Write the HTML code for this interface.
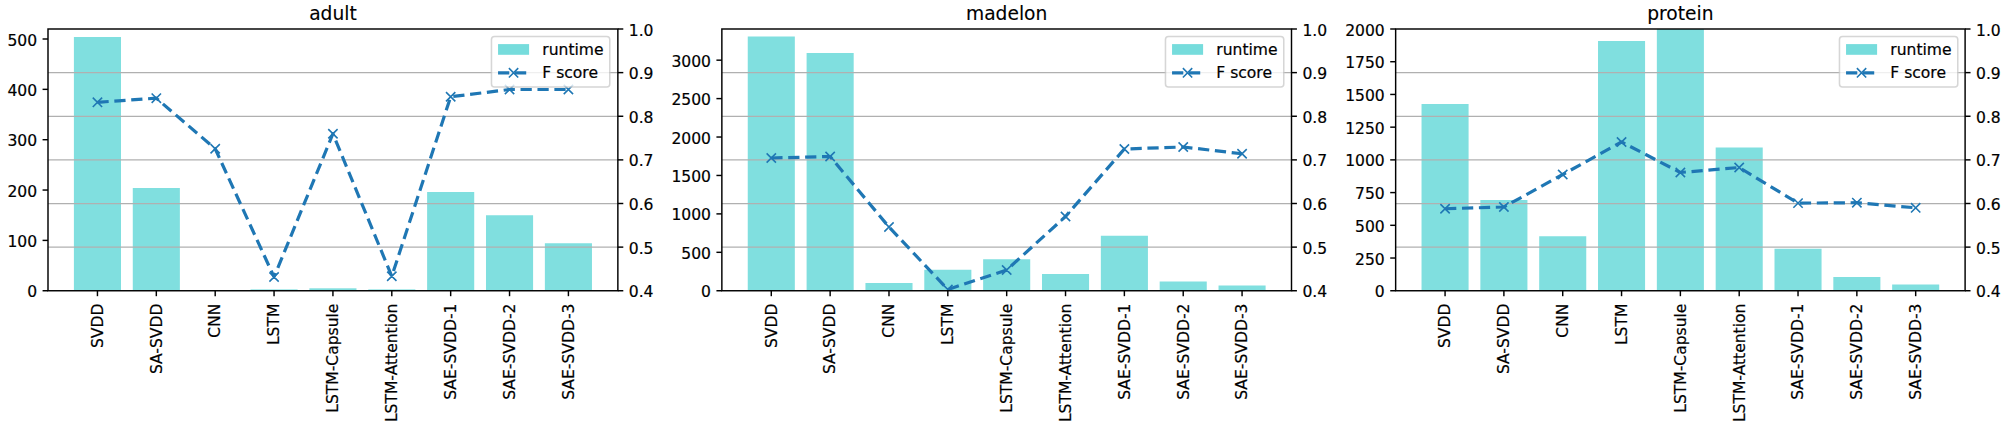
<!DOCTYPE html>
<html lang="en">
<head>
<meta charset="utf-8">
<title>runtime and F score</title>
<style>
html,body{margin:0;padding:0;background:#fff;}
body{width:2007px;height:428px;overflow:hidden;}
svg{display:block;}
svg text{font-family:"DejaVu Sans","Liberation Sans",sans-serif;font-size:15.56px;fill:#000;stroke:#000;stroke-width:0.2px;}
svg .lt text{text-anchor:end;}
svg .rt text{text-anchor:start;}
svg .xt text{text-anchor:end;}
svg text.ti{font-size:18.67px;text-anchor:middle;stroke-width:0.12px;}
</style>
</head>
<body>
<svg width="2007" height="428" viewBox="0 0 2007 428">
<defs>
<clipPath id="c0"><rect x="48.0" y="29.0" width="569.86" height="261.75"/></clipPath>
<clipPath id="c1"><rect x="721.86" y="29.0" width="569.64" height="261.75"/></clipPath>
<clipPath id="c2"><rect x="1395.65" y="29.0" width="569.45" height="261.75"/></clipPath>
</defs>
<rect width="2007" height="428" fill="#fff"/>
<g class="panel">
<g clip-path="url(#c0)" fill="#80dfdf">
<rect x="73.9" y="37" width="47.1" height="253.75"/>
<rect x="132.77" y="188" width="47.1" height="102.75"/>
<rect x="191.64" y="290.2" width="47.1" height="0.55"/>
<rect x="250.51" y="289.4" width="47.1" height="1.35"/>
<rect x="309.38" y="288.3" width="47.1" height="2.45"/>
<rect x="368.25" y="289.4" width="47.1" height="1.35"/>
<rect x="427.12" y="192" width="47.1" height="98.75"/>
<rect x="485.99" y="215.25" width="47.1" height="75.5"/>
<rect x="544.86" y="243.25" width="47.1" height="47.5"/>
</g>
<g stroke="#b0b0b0" stroke-width="1.25">
<line x1="48" x2="617.86" y1="247.12" y2="247.12"/>
<line x1="48" x2="617.86" y1="203.5" y2="203.5"/>
<line x1="48" x2="617.86" y1="159.88" y2="159.88"/>
<line x1="48" x2="617.86" y1="116.25" y2="116.25"/>
<line x1="48" x2="617.86" y1="72.62" y2="72.62"/>
</g>
<g clip-path="url(#c0)" stroke="#1f77b4" fill="none">
<polyline points="97.45,102.3 156.32,98.2 215.19,148.75 274.06,277 332.93,133.75 391.8,276.25 450.67,96.75 509.54,89.5 568.41,89.5" stroke-width="3.19" stroke-dasharray="11.25 5.67" stroke-linejoin="round"/>
<path d="M92.78 97.63L102.12 106.97M92.78 106.97L102.12 97.63M151.65 93.53L160.99 102.87M151.65 102.87L160.99 93.53M210.52 144.08L219.86 153.42M210.52 153.42L219.86 144.08M269.39 272.33L278.73 281.67M269.39 281.67L278.73 272.33M328.26 129.08L337.6 138.42M328.26 138.42L337.6 129.08M387.13 271.58L396.47 280.92M387.13 280.92L396.47 271.58M446 92.08L455.34 101.42M446 101.42L455.34 92.08M504.87 84.83L514.21 94.17M504.87 94.17L514.21 84.83M563.74 84.83L573.08 94.17M563.74 94.17L573.08 84.83" stroke-width="1.556"/>
</g>
<g stroke="#000" stroke-width="1.45">
<line x1="97.45" x2="97.45" y1="290.75" y2="296.19"/>
<line x1="156.32" x2="156.32" y1="290.75" y2="296.19"/>
<line x1="215.19" x2="215.19" y1="290.75" y2="296.19"/>
<line x1="274.06" x2="274.06" y1="290.75" y2="296.19"/>
<line x1="332.93" x2="332.93" y1="290.75" y2="296.19"/>
<line x1="391.8" x2="391.8" y1="290.75" y2="296.19"/>
<line x1="450.67" x2="450.67" y1="290.75" y2="296.19"/>
<line x1="509.54" x2="509.54" y1="290.75" y2="296.19"/>
<line x1="568.41" x2="568.41" y1="290.75" y2="296.19"/>
<line x1="42.56" x2="48" y1="290.75" y2="290.75"/>
<line x1="42.56" x2="48" y1="240.4" y2="240.4"/>
<line x1="42.56" x2="48" y1="190.05" y2="190.05"/>
<line x1="42.56" x2="48" y1="139.7" y2="139.7"/>
<line x1="42.56" x2="48" y1="89.35" y2="89.35"/>
<line x1="42.56" x2="48" y1="39" y2="39"/>
<line x1="617.86" x2="623.3" y1="290.75" y2="290.75"/>
<line x1="617.86" x2="623.3" y1="247.12" y2="247.12"/>
<line x1="617.86" x2="623.3" y1="203.5" y2="203.5"/>
<line x1="617.86" x2="623.3" y1="159.88" y2="159.88"/>
<line x1="617.86" x2="623.3" y1="116.25" y2="116.25"/>
<line x1="617.86" x2="623.3" y1="72.62" y2="72.62"/>
<line x1="617.86" x2="623.3" y1="29" y2="29"/>
<rect x="48" y="29" width="569.86" height="261.75" fill="none"/>
</g>
<g class="lt">
<text x="37.1" y="297.25">0</text>
<text x="37.1" y="246.9">100</text>
<text x="37.1" y="196.55">200</text>
<text x="37.1" y="146.2">300</text>
<text x="37.1" y="95.85">400</text>
<text x="37.1" y="45.5">500</text>
</g>
<g class="rt">
<text x="628.76" y="297.25">0.4</text>
<text x="628.76" y="253.62">0.5</text>
<text x="628.76" y="210">0.6</text>
<text x="628.76" y="166.38">0.7</text>
<text x="628.76" y="122.75">0.8</text>
<text x="628.76" y="79.12">0.9</text>
<text x="628.76" y="35.5">1.0</text>
</g>
<g class="xt">
<text transform="translate(102.75 303.6) rotate(-90)">SVDD</text>
<text transform="translate(161.62 303.6) rotate(-90)">SA-SVDD</text>
<text transform="translate(220.49 303.6) rotate(-90)">CNN</text>
<text transform="translate(279.36 303.6) rotate(-90)">LSTM</text>
<text transform="translate(338.23 303.6) rotate(-90)">LSTM-Capsule</text>
<text transform="translate(397.1 303.6) rotate(-90)">LSTM-Attention</text>
<text transform="translate(455.97 303.6) rotate(-90)">SAE-SVDD-1</text>
<text transform="translate(514.84 303.6) rotate(-90)">SAE-SVDD-2</text>
<text transform="translate(573.71 303.6) rotate(-90)">SAE-SVDD-3</text>
</g>
<text class="ti" x="332.93" y="19.7">adult</text>
<g class="lg">
<rect x="491.47" y="36.5" width="118.3" height="50.5" rx="3.06" fill="#fff" stroke="#ccc" stroke-width="1.53" opacity="0.8"/>
<rect x="498.05" y="44.1" width="31.05" height="10.7" fill="#76dcdc"/>
<line x1="498.05" x2="529.1" y1="72.8" y2="72.8" stroke="#1f77b4" stroke-width="3.19" stroke-dasharray="11.25 5.67"/>
<path d="M508.88 68.13L518.22 77.47M508.88 77.47L518.22 68.13" stroke="#1f77b4" stroke-width="1.556" fill="none"/>
<text x="542.3" y="55.0">runtime</text>
<text x="542.3" y="78.1">F score</text>
</g>
</g>
<g class="panel">
<g clip-path="url(#c1)" fill="#80dfdf">
<rect x="747.75" y="36.5" width="47.08" height="254.25"/>
<rect x="806.6" y="53" width="47.08" height="237.75"/>
<rect x="865.45" y="283" width="47.08" height="7.75"/>
<rect x="924.29" y="269.75" width="47.08" height="21"/>
<rect x="983.14" y="259.25" width="47.08" height="31.5"/>
<rect x="1041.99" y="274" width="47.08" height="16.75"/>
<rect x="1100.84" y="235.75" width="47.08" height="55"/>
<rect x="1159.68" y="281.5" width="47.08" height="9.25"/>
<rect x="1218.53" y="285.5" width="47.08" height="5.25"/>
</g>
<g stroke="#b0b0b0" stroke-width="1.25">
<line x1="721.86" x2="1291.5" y1="247.12" y2="247.12"/>
<line x1="721.86" x2="1291.5" y1="203.5" y2="203.5"/>
<line x1="721.86" x2="1291.5" y1="159.88" y2="159.88"/>
<line x1="721.86" x2="1291.5" y1="116.25" y2="116.25"/>
<line x1="721.86" x2="1291.5" y1="72.62" y2="72.62"/>
</g>
<g clip-path="url(#c1)" stroke="#1f77b4" fill="none">
<polyline points="771.29,158 830.14,156.5 888.99,227 947.83,289.5 1006.68,270 1065.53,216.5 1124.37,149 1183.22,147 1242.07,153.75" stroke-width="3.19" stroke-dasharray="11.25 5.67" stroke-linejoin="round"/>
<path d="M766.62 153.33L775.96 162.67M766.62 162.67L775.96 153.33M825.47 151.83L834.81 161.17M825.47 161.17L834.81 151.83M884.32 222.33L893.66 231.67M884.32 231.67L893.66 222.33M943.16 284.83L952.5 294.17M943.16 294.17L952.5 284.83M1002.01 265.33L1011.35 274.67M1002.01 274.67L1011.35 265.33M1060.86 211.83L1070.2 221.17M1060.86 221.17L1070.2 211.83M1119.7 144.33L1129.04 153.67M1119.7 153.67L1129.04 144.33M1178.55 142.33L1187.89 151.67M1178.55 151.67L1187.89 142.33M1237.4 149.08L1246.74 158.42M1237.4 158.42L1246.74 149.08" stroke-width="1.556"/>
</g>
<g stroke="#000" stroke-width="1.45">
<line x1="771.29" x2="771.29" y1="290.75" y2="296.19"/>
<line x1="830.14" x2="830.14" y1="290.75" y2="296.19"/>
<line x1="888.99" x2="888.99" y1="290.75" y2="296.19"/>
<line x1="947.83" x2="947.83" y1="290.75" y2="296.19"/>
<line x1="1006.68" x2="1006.68" y1="290.75" y2="296.19"/>
<line x1="1065.53" x2="1065.53" y1="290.75" y2="296.19"/>
<line x1="1124.37" x2="1124.37" y1="290.75" y2="296.19"/>
<line x1="1183.22" x2="1183.22" y1="290.75" y2="296.19"/>
<line x1="1242.07" x2="1242.07" y1="290.75" y2="296.19"/>
<line x1="716.42" x2="721.86" y1="290.75" y2="290.75"/>
<line x1="716.42" x2="721.86" y1="252.32" y2="252.32"/>
<line x1="716.42" x2="721.86" y1="213.89" y2="213.89"/>
<line x1="716.42" x2="721.86" y1="175.46" y2="175.46"/>
<line x1="716.42" x2="721.86" y1="137.03" y2="137.03"/>
<line x1="716.42" x2="721.86" y1="98.6" y2="98.6"/>
<line x1="716.42" x2="721.86" y1="60.17" y2="60.17"/>
<line x1="1291.5" x2="1296.94" y1="290.75" y2="290.75"/>
<line x1="1291.5" x2="1296.94" y1="247.12" y2="247.12"/>
<line x1="1291.5" x2="1296.94" y1="203.5" y2="203.5"/>
<line x1="1291.5" x2="1296.94" y1="159.88" y2="159.88"/>
<line x1="1291.5" x2="1296.94" y1="116.25" y2="116.25"/>
<line x1="1291.5" x2="1296.94" y1="72.62" y2="72.62"/>
<line x1="1291.5" x2="1296.94" y1="29" y2="29"/>
<rect x="721.86" y="29" width="569.64" height="261.75" fill="none"/>
</g>
<g class="lt">
<text x="710.96" y="297.25">0</text>
<text x="710.96" y="258.82">500</text>
<text x="710.96" y="220.39">1000</text>
<text x="710.96" y="181.96">1500</text>
<text x="710.96" y="143.53">2000</text>
<text x="710.96" y="105.1">2500</text>
<text x="710.96" y="66.67">3000</text>
</g>
<g class="rt">
<text x="1302.4" y="297.25">0.4</text>
<text x="1302.4" y="253.62">0.5</text>
<text x="1302.4" y="210">0.6</text>
<text x="1302.4" y="166.38">0.7</text>
<text x="1302.4" y="122.75">0.8</text>
<text x="1302.4" y="79.12">0.9</text>
<text x="1302.4" y="35.5">1.0</text>
</g>
<g class="xt">
<text transform="translate(776.59 303.6) rotate(-90)">SVDD</text>
<text transform="translate(835.44 303.6) rotate(-90)">SA-SVDD</text>
<text transform="translate(894.29 303.6) rotate(-90)">CNN</text>
<text transform="translate(953.13 303.6) rotate(-90)">LSTM</text>
<text transform="translate(1011.98 303.6) rotate(-90)">LSTM-Capsule</text>
<text transform="translate(1070.83 303.6) rotate(-90)">LSTM-Attention</text>
<text transform="translate(1129.67 303.6) rotate(-90)">SAE-SVDD-1</text>
<text transform="translate(1188.52 303.6) rotate(-90)">SAE-SVDD-2</text>
<text transform="translate(1247.37 303.6) rotate(-90)">SAE-SVDD-3</text>
</g>
<text class="ti" x="1006.68" y="19.7">madelon</text>
<g class="lg">
<rect x="1165.47" y="36.5" width="118.3" height="50.5" rx="3.06" fill="#fff" stroke="#ccc" stroke-width="1.53" opacity="0.8"/>
<rect x="1172.05" y="44.1" width="31.05" height="10.7" fill="#76dcdc"/>
<line x1="1172.05" x2="1203.1" y1="72.8" y2="72.8" stroke="#1f77b4" stroke-width="3.19" stroke-dasharray="11.25 5.67"/>
<path d="M1182.88 68.13L1192.22 77.47M1182.88 77.47L1192.22 68.13" stroke="#1f77b4" stroke-width="1.556" fill="none"/>
<text x="1216.3" y="55.0">runtime</text>
<text x="1216.3" y="78.1">F score</text>
</g>
</g>
<g class="panel">
<g clip-path="url(#c2)" fill="#80dfdf">
<rect x="1421.53" y="104" width="47.06" height="186.75"/>
<rect x="1480.36" y="200" width="47.06" height="90.75"/>
<rect x="1539.19" y="236.25" width="47.06" height="54.5"/>
<rect x="1598.02" y="41" width="47.06" height="249.75"/>
<rect x="1656.84" y="20" width="47.06" height="270.75"/>
<rect x="1715.67" y="147.5" width="47.06" height="143.25"/>
<rect x="1774.5" y="248.75" width="47.06" height="42"/>
<rect x="1833.33" y="277" width="47.06" height="13.75"/>
<rect x="1892.15" y="284.5" width="47.06" height="6.25"/>
</g>
<g stroke="#b0b0b0" stroke-width="1.25">
<line x1="1395.65" x2="1965.1" y1="247.12" y2="247.12"/>
<line x1="1395.65" x2="1965.1" y1="203.5" y2="203.5"/>
<line x1="1395.65" x2="1965.1" y1="159.88" y2="159.88"/>
<line x1="1395.65" x2="1965.1" y1="116.25" y2="116.25"/>
<line x1="1395.65" x2="1965.1" y1="72.62" y2="72.62"/>
</g>
<g clip-path="url(#c2)" stroke="#1f77b4" fill="none">
<polyline points="1445.07,208.75 1503.89,207 1562.72,174.5 1621.55,142 1680.38,172.5 1739.2,167.5 1798.03,203.1 1856.86,202.7 1915.68,207.8" stroke-width="3.19" stroke-dasharray="11.25 5.67" stroke-linejoin="round"/>
<path d="M1440.4 204.08L1449.74 213.42M1440.4 213.42L1449.74 204.08M1499.22 202.33L1508.56 211.67M1499.22 211.67L1508.56 202.33M1558.05 169.83L1567.39 179.17M1558.05 179.17L1567.39 169.83M1616.88 137.33L1626.22 146.67M1616.88 146.67L1626.22 137.33M1675.7 167.83L1685.05 177.17M1675.7 177.17L1685.05 167.83M1734.53 162.83L1743.87 172.17M1734.53 172.17L1743.87 162.83M1793.36 198.43L1802.7 207.77M1793.36 207.77L1802.7 198.43M1852.19 198.03L1861.53 207.37M1852.19 207.37L1861.53 198.03M1911.01 203.13L1920.35 212.47M1911.01 212.47L1920.35 203.13" stroke-width="1.556"/>
</g>
<g stroke="#000" stroke-width="1.45">
<line x1="1445.07" x2="1445.07" y1="290.75" y2="296.19"/>
<line x1="1503.89" x2="1503.89" y1="290.75" y2="296.19"/>
<line x1="1562.72" x2="1562.72" y1="290.75" y2="296.19"/>
<line x1="1621.55" x2="1621.55" y1="290.75" y2="296.19"/>
<line x1="1680.38" x2="1680.38" y1="290.75" y2="296.19"/>
<line x1="1739.2" x2="1739.2" y1="290.75" y2="296.19"/>
<line x1="1798.03" x2="1798.03" y1="290.75" y2="296.19"/>
<line x1="1856.86" x2="1856.86" y1="290.75" y2="296.19"/>
<line x1="1915.68" x2="1915.68" y1="290.75" y2="296.19"/>
<line x1="1390.21" x2="1395.65" y1="290.75" y2="290.75"/>
<line x1="1390.21" x2="1395.65" y1="258.03" y2="258.03"/>
<line x1="1390.21" x2="1395.65" y1="225.31" y2="225.31"/>
<line x1="1390.21" x2="1395.65" y1="192.59" y2="192.59"/>
<line x1="1390.21" x2="1395.65" y1="159.88" y2="159.88"/>
<line x1="1390.21" x2="1395.65" y1="127.16" y2="127.16"/>
<line x1="1390.21" x2="1395.65" y1="94.44" y2="94.44"/>
<line x1="1390.21" x2="1395.65" y1="61.72" y2="61.72"/>
<line x1="1390.21" x2="1395.65" y1="29" y2="29"/>
<line x1="1965.1" x2="1970.54" y1="290.75" y2="290.75"/>
<line x1="1965.1" x2="1970.54" y1="247.12" y2="247.12"/>
<line x1="1965.1" x2="1970.54" y1="203.5" y2="203.5"/>
<line x1="1965.1" x2="1970.54" y1="159.88" y2="159.88"/>
<line x1="1965.1" x2="1970.54" y1="116.25" y2="116.25"/>
<line x1="1965.1" x2="1970.54" y1="72.62" y2="72.62"/>
<line x1="1965.1" x2="1970.54" y1="29" y2="29"/>
<rect x="1395.65" y="29" width="569.45" height="261.75" fill="none"/>
</g>
<g class="lt">
<text x="1384.75" y="297.25">0</text>
<text x="1384.75" y="264.53">250</text>
<text x="1384.75" y="231.81">500</text>
<text x="1384.75" y="199.09">750</text>
<text x="1384.75" y="166.38">1000</text>
<text x="1384.75" y="133.66">1250</text>
<text x="1384.75" y="100.94">1500</text>
<text x="1384.75" y="68.22">1750</text>
<text x="1384.75" y="35.5">2000</text>
</g>
<g class="rt">
<text x="1976" y="297.25">0.4</text>
<text x="1976" y="253.62">0.5</text>
<text x="1976" y="210">0.6</text>
<text x="1976" y="166.38">0.7</text>
<text x="1976" y="122.75">0.8</text>
<text x="1976" y="79.12">0.9</text>
<text x="1976" y="35.5">1.0</text>
</g>
<g class="xt">
<text transform="translate(1450.37 303.6) rotate(-90)">SVDD</text>
<text transform="translate(1509.19 303.6) rotate(-90)">SA-SVDD</text>
<text transform="translate(1568.02 303.6) rotate(-90)">CNN</text>
<text transform="translate(1626.85 303.6) rotate(-90)">LSTM</text>
<text transform="translate(1685.67 303.6) rotate(-90)">LSTM-Capsule</text>
<text transform="translate(1744.5 303.6) rotate(-90)">LSTM-Attention</text>
<text transform="translate(1803.33 303.6) rotate(-90)">SAE-SVDD-1</text>
<text transform="translate(1862.16 303.6) rotate(-90)">SAE-SVDD-2</text>
<text transform="translate(1920.98 303.6) rotate(-90)">SAE-SVDD-3</text>
</g>
<text class="ti" x="1680.38" y="19.7">protein</text>
<g class="lg">
<rect x="1839.47" y="36.5" width="118.3" height="50.5" rx="3.06" fill="#fff" stroke="#ccc" stroke-width="1.53" opacity="0.8"/>
<rect x="1846.05" y="44.1" width="31.05" height="10.7" fill="#76dcdc"/>
<line x1="1846.05" x2="1877.1" y1="72.8" y2="72.8" stroke="#1f77b4" stroke-width="3.19" stroke-dasharray="11.25 5.67"/>
<path d="M1856.88 68.13L1866.22 77.47M1856.88 77.47L1866.22 68.13" stroke="#1f77b4" stroke-width="1.556" fill="none"/>
<text x="1890.3" y="55.0">runtime</text>
<text x="1890.3" y="78.1">F score</text>
</g>
</g>
</svg>
</body>
</html>
